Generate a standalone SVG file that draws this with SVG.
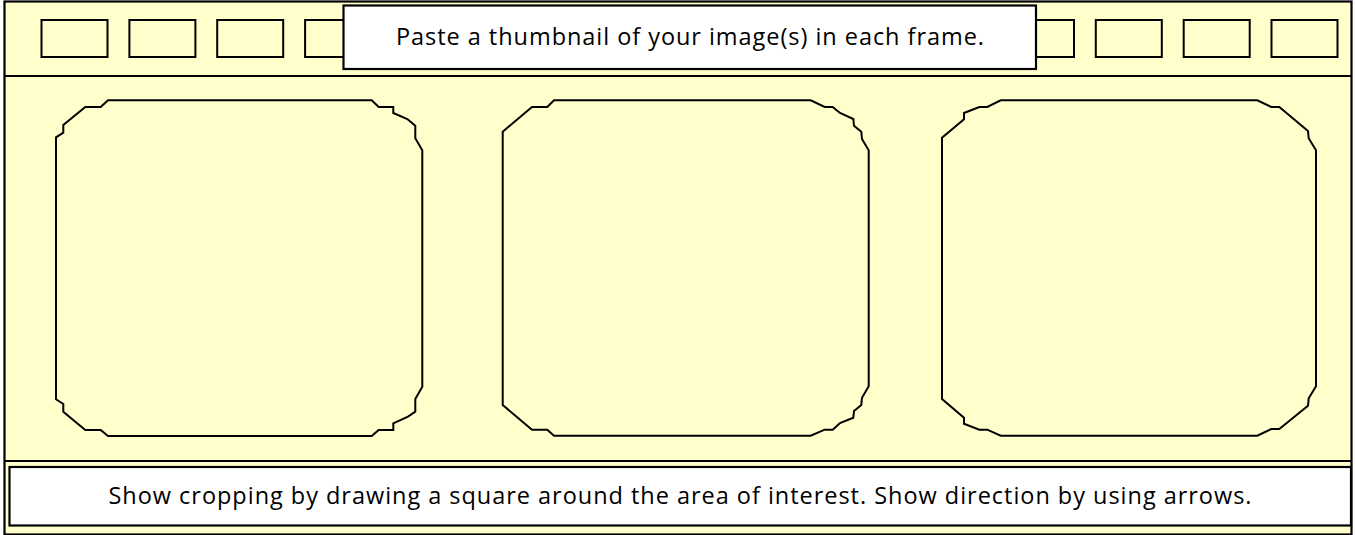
<svg xmlns="http://www.w3.org/2000/svg" width="1355" height="535" viewBox="0 0 1355 535">
<style>
.bg{fill:#FFFFCC;stroke:#000;stroke-width:2.2}
.ln{stroke:#000;stroke-width:2.2;fill:none}
.slot{fill:#FFFFCC;stroke:#000;stroke-width:2}
.frame{fill:#FFFFCC;stroke:#000;stroke-width:2;stroke-linejoin:miter}
.box{fill:#FFFFFF;stroke:#000;stroke-width:2.2}
.txt{font-family:"Open Sans","Liberation Sans",sans-serif;font-size:23.5px;fill:#000;text-anchor:middle}
</style>
<rect width="1355" height="535" fill="#FFFFFF"/>
<g id="filmstrip">
<rect class="bg" x="4.5" y="1.5" width="1347" height="533"/>
<line class="ln" x1="4.5" y1="76" x2="1351.5" y2="76"/>
<line class="ln" x1="4.5" y1="461" x2="1351.5" y2="461"/>
</g>
<g id="sprockets">
<rect class="slot" x="41.5" y="20" width="66" height="37"/>
<rect class="slot" x="129.4" y="20" width="66" height="37"/>
<rect class="slot" x="217.2" y="20" width="66" height="37"/>
<rect class="slot" x="305.1" y="20" width="66" height="37"/>
<rect class="slot" x="393" y="20" width="66" height="37"/>
<rect class="slot" x="480.8" y="20" width="66" height="37"/>
<rect class="slot" x="568.7" y="20" width="66" height="37"/>
<rect class="slot" x="656.5" y="20" width="66" height="37"/>
<rect class="slot" x="744.4" y="20" width="66" height="37"/>
<rect class="slot" x="832.3" y="20" width="66" height="37"/>
<rect class="slot" x="920.1" y="20" width="66" height="37"/>
<rect class="slot" x="1008" y="20" width="66" height="37"/>
<rect class="slot" x="1095.8" y="20" width="66" height="37"/>
<rect class="slot" x="1183.7" y="20" width="66" height="37"/>
<rect class="slot" x="1271.5" y="20" width="66" height="37"/>
</g>
<g id="title">
<rect class="box" x="343.5" y="5.5" width="692.5" height="63.5"/>
<text class="txt" x="690" y="45" textLength="588" lengthAdjust="spacing">Paste a thumbnail of your image(s) in each frame.</text>
</g>
<g id="frame1">
<path class="frame" d="M108,100.3 L371.7,100.3 L378.7,107 L393.3,107 L393.3,113 L407.3,119 L415.3,125.7 L415.3,138.3 L422.3,150.3 L422.3,386.7 L415.3,399 L415.3,411.7 L408,416.7 L393.3,423.3 L393.3,430 L378.7,430 L371.7,436 L108,436 L100.7,430 L85.3,430 L63.3,411.7 L63.3,404 L56,399.3 L56,137.3 L63.3,132.7 L63.3,125 L85.3,107 L100.7,107 Z"/>
</g>
<g id="frame2">
<path class="frame" d="M554,100.3 L810.7,100.3 L824.7,107 L832.7,107 L840,113 L853.3,119 L854,125.7 L861.3,131.7 L862,139 L868.7,150.3 L868.7,386.3 L862,397.7 L861.3,405 L854,411 L853.3,417.7 L840,423 L832.7,429.7 L824.7,429.7 L810.7,435.7 L554,435.7 L547.3,429.7 L532,429.7 L502.7,405 L502.7,131.7 L532,107 L547.3,107 Z"/>
</g>
<g id="frame3">
<path class="frame" d="M1000.7,100.3 L1257.3,100.3 L1271.3,107 L1279.3,107 L1308,131 L1308.7,138.3 L1316,150.3 L1316,386.3 L1308.7,398.3 L1308,405.7 L1279.3,429 L1271.3,429 L1257.3,435.7 L1000.7,435.7 L987.3,429.7 L979.3,429.7 L964,423.7 L964,417.7 L942,399 L942,137.7 L964,119.3 L964,113 L979.3,107 L987.3,107 Z"/>
</g>
<g id="caption">
<rect class="box" x="9.5" y="467" width="1341.5" height="58.5"/>
<text class="txt" x="680" y="504" textLength="1143" lengthAdjust="spacing">Show cropping by drawing a square around the area of interest. Show direction by using arrows.</text>
</g>
<g id="connectors"/>
</svg>
